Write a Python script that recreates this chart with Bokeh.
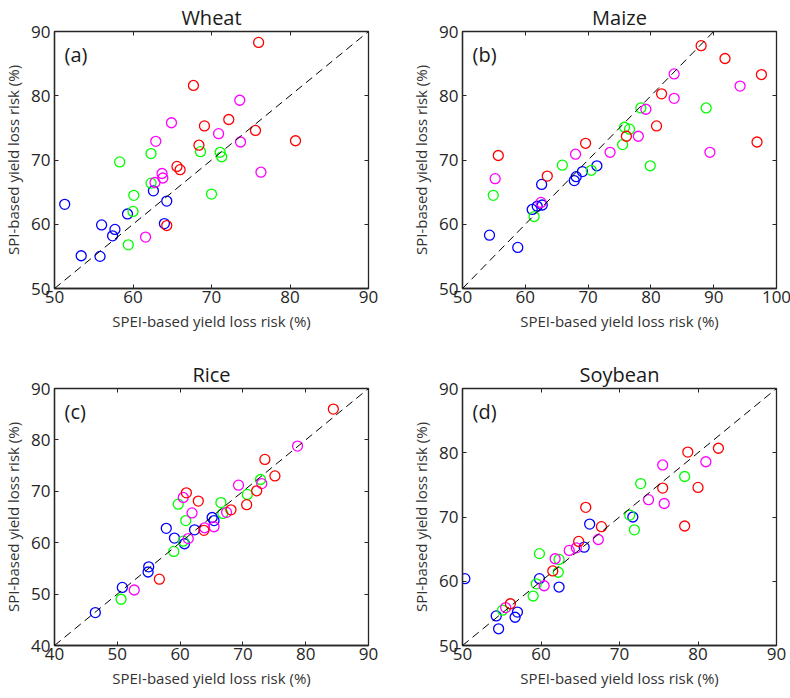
from bokeh.plotting import figure
from bokeh.models import Range1d, FixedTicker, LinearAxis, Slope, Label
from bokeh.layouts import column, row
from bokeh.embed import file_html
from bokeh.resources import INLINE

# ---------------- data (SPEI-based x, SPI-based y), % ----------------
wheat_blue_x = [51.3, 62.6, 64.3, 59.3, 56.0, 57.7, 57.4, 53.4, 55.8, 64.0]
wheat_blue_y = [63.1, 65.2, 63.6, 61.6, 59.9, 59.2, 58.2, 55.1, 55.0, 60.1]
wheat_green_x = [58.3, 62.3, 68.6, 71.1, 71.3, 62.3, 60.1, 60.0, 59.4, 70.0]
wheat_green_y = [69.7, 71.0, 71.3, 71.2, 70.5, 66.4, 64.5, 62.0, 56.8, 64.7]
wheat_magenta_x = [73.6, 64.9, 62.9, 70.9, 73.7, 63.7, 63.8, 62.8, 76.3, 61.6]
wheat_magenta_y = [79.3, 75.8, 72.9, 74.1, 72.8, 67.9, 67.2, 66.5, 68.1, 58.0]
wheat_red_x = [76.0, 67.7, 69.1, 72.2, 75.6, 80.7, 68.4, 65.6, 66.0, 64.3]
wheat_red_y = [88.3, 81.6, 75.3, 76.3, 74.6, 73.0, 72.3, 69.0, 68.5, 59.8]

maize_blue_x = [71.4, 69.1, 68.1, 67.8, 62.6, 61.1, 61.9, 62.7, 54.3, 58.8]
maize_blue_y = [69.1, 68.2, 67.4, 66.8, 66.2, 62.3, 62.8, 63.0, 58.3, 56.4]
maize_green_x = [78.4, 75.8, 76.6, 75.5, 88.8, 65.9, 70.5, 79.9, 54.9, 61.4]
maize_green_y = [78.1, 75.1, 74.8, 72.4, 78.1, 69.2, 68.4, 69.1, 64.5, 61.2]
maize_magenta_x = [83.7, 83.7, 94.2, 79.2, 78.0, 68.0, 73.5, 55.2, 89.4, 62.5]
maize_magenta_y = [83.4, 79.6, 81.5, 77.9, 73.7, 70.9, 71.2, 67.1, 71.2, 63.4]
maize_red_x = [88.0, 91.8, 97.6, 81.7, 80.9, 76.1, 69.6, 55.7, 63.5, 96.9]
maize_red_y = [87.8, 85.8, 83.3, 80.3, 75.3, 73.7, 72.6, 70.7, 67.5, 72.8]

rice_blue_x = [65.1, 65.4, 62.3, 57.8, 59.1, 60.7, 55.0, 54.9, 50.8, 46.5]
rice_blue_y = [64.9, 64.3, 62.5, 62.8, 60.9, 59.8, 55.3, 54.3, 51.3, 46.4]
rice_green_x = [72.8, 70.7, 66.5, 66.8, 59.7, 60.9, 60.5, 59.0, 50.6]
rice_green_y = [72.3, 69.4, 67.8, 65.7, 67.5, 64.3, 60.3, 58.3, 49.0]
rice_magenta_x = [78.7, 69.3, 73.0, 60.5, 61.9, 67.4, 65.4, 63.9, 61.3, 52.7]
rice_magenta_y = [78.8, 71.2, 71.5, 68.8, 65.8, 65.9, 63.1, 62.9, 60.8, 50.8]
rice_red_x = [84.4, 73.5, 75.1, 72.2, 70.6, 68.1, 61.0, 62.9, 63.8, 56.7]
rice_red_y = [86.0, 76.2, 73.0, 70.1, 67.4, 66.4, 69.7, 68.1, 62.4, 52.9]

soy_blue_x = [71.7, 66.2, 65.5, 59.8, 62.3, 50.3, 57.0, 56.7, 54.3, 54.6]
soy_blue_y = [70.0, 68.9, 65.3, 60.4, 59.1, 60.4, 55.2, 54.4, 54.6, 52.6]
soy_green_x = [72.7, 78.3, 71.3, 71.9, 59.8, 62.3, 62.2, 59.4, 59.0, 55.1]
soy_green_y = [75.2, 76.3, 70.3, 68.0, 64.3, 63.4, 61.4, 59.6, 57.7, 55.5]
soy_magenta_x = [81.0, 75.5, 73.7, 75.7, 67.3, 63.6, 64.5, 61.8, 60.4, 55.5]
soy_magenta_y = [78.6, 78.1, 72.7, 72.1, 66.5, 64.8, 65.2, 63.5, 59.3, 55.9]
soy_red_x = [82.6, 78.7, 75.5, 80.0, 78.3, 65.7, 67.7, 64.8, 61.5, 56.1]
soy_red_y = [80.7, 80.1, 74.5, 74.6, 68.6, 71.5, 68.5, 66.2, 61.6, 56.5]

titles = ["Wheat", "Maize", "Rice", "Soybean"]
letters = ["(a)", "(b)", "(c)", "(d)"]
wheat_ticks = [50, 60, 70, 80, 90]
maize_xticks = [50, 60, 70, 80, 90, 100]
maize_yticks = [50, 60, 70, 80, 90]
rice_ticks = [40, 50, 60, 70, 80, 90]
soy_ticks = [50, 60, 70, 80, 90]

x_label = "SPEI-based yield loss risk (%)"
y_label = "SPI-based yield loss risk (%)"

COLORS = {"blue": "#0000FF", "green": "#00FF00", "magenta": "#FF00FF", "red": "#FF0000"}
FONT = "Open Sans"
AX = "#262626"
FW, FH = 314, 257


def tick_axis(ticks):
    ax = LinearAxis(ticker=FixedTicker(ticks=ticks))
    ax.major_label_overrides = {t: "" for t in ticks}
    ax.major_label_standoff = 0
    ax.major_tick_in = 4
    ax.major_tick_out = 0
    ax.minor_tick_in = 0
    ax.minor_tick_out = 0
    ax.major_tick_line_color = AX
    ax.axis_line_color = None
    return ax


def panel(title, letter, xr, yr, xticks, yticks, series, left, right, top, bottom):
    p = figure(frame_width=FW, frame_height=FH,
               x_range=Range1d(*xr), y_range=Range1d(*yr),
               output_backend="svg", toolbar_location=None,
               min_border_left=left, min_border_right=right,
               min_border_top=top, min_border_bottom=bottom,
               title=title)
    p.grid.visible = False
    p.outline_line_color = AX
    p.outline_line_width = 1.3
    p.outline_line_alpha = 1
    p.title.align = "center"
    p.title.text_font = FONT
    p.title.text_font_size = "20px"
    p.title.text_font_style = "normal"
    p.title.text_color = "#1a1a1a"
    if "standoff" in p.title.properties():
        p.title.standoff = 2

    for ax, ticks in ((p.xaxis[0], xticks), (p.yaxis[0], yticks)):
        ax.ticker = FixedTicker(ticks=ticks)
        ax.major_tick_in = 4
        ax.major_tick_out = 0
        ax.minor_tick_in = 0
        ax.minor_tick_out = 0
        ax.major_tick_line_color = AX
        ax.axis_line_color = AX
        ax.axis_line_width = 1.3
        ax.major_label_text_font = FONT
        ax.major_label_text_font_size = "17px"
        ax.major_label_text_color = AX
        ax.axis_label_text_font = FONT
        ax.axis_label_text_font_size = "15px"
        ax.axis_label_text_font_style = "normal"
        ax.axis_label_text_color = "#333333"
        ax.axis_label_standoff = 5
    p.xaxis[0].major_label_standoff = 2
    p.yaxis[0].major_label_standoff = 4
    p.xaxis[0].axis_label = x_label
    p.yaxis[0].axis_label = y_label

    p.add_layout(tick_axis(xticks), "above")
    p.add_layout(tick_axis(yticks), "right")

    p.add_layout(Slope(gradient=1, y_intercept=0, line_color="black",
                       line_width=1, line_dash="8 5"))

    for name, xs, ys in series:
        p.scatter(xs, ys, marker="circle", size=10, fill_color=None,
                  line_color=COLORS[name], line_width=1.3)

    p.add_layout(Label(x=10, y=FH - 9, x_units="screen", y_units="screen",
                       text=letter, text_font=FONT, text_font_size="20px",
                       text_color="#1a1a1a", text_baseline="top", text_align="left"))
    return p


pa = panel(titles[0], letters[0], (50, 90), (50, 90), wheat_ticks, wheat_ticks,
           [("blue", wheat_blue_x, wheat_blue_y), ("green", wheat_green_x, wheat_green_y),
            ("magenta", wheat_magenta_x, wheat_magenta_y), ("red", wheat_red_x, wheat_red_y)],
           42, 40, 24, 69)
pb = panel(titles[1], letters[1], (50, 100), (50, 90), maize_xticks, maize_yticks,
           [("blue", maize_blue_x, maize_blue_y), ("green", maize_green_x, maize_green_y),
            ("magenta", maize_magenta_x, maize_magenta_y), ("red", maize_red_x, maize_red_y)],
           44, 16, 24, 69)
pc = panel(titles[2], letters[2], (40, 90), (40, 90), rice_ticks, rice_ticks,
           [("blue", rice_blue_x, rice_blue_y), ("green", rice_green_x, rice_green_y),
            ("magenta", rice_magenta_x, rice_magenta_y), ("red", rice_red_x, rice_red_y)],
           42, 40, 28, 46)
pd_ = panel(titles[3], letters[3], (50, 90), (50, 90), soy_ticks, soy_ticks,
            [("blue", soy_blue_x, soy_blue_y), ("green", soy_green_x, soy_green_y),
             ("magenta", soy_magenta_x, soy_magenta_y), ("red", soy_red_x, soy_red_y)],
            44, 16, 28, 46)

layout = column(row(pa, pb), row(pc, pd_))
open("out.html", "w").write(file_html(layout, INLINE))
